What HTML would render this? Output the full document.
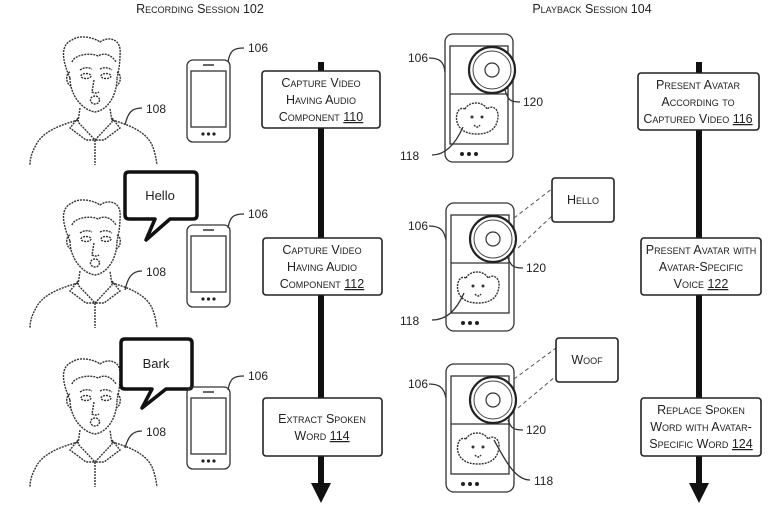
<!DOCTYPE html>
<html><head><meta charset="utf-8"><style>
html,body{margin:0;padding:0;background:#fff}
svg{display:block}
text{font-family:"Liberation Sans",sans-serif;fill:#222}
.sc{font-variant:small-caps;font-size:12.5px}
.ln{fill:none;stroke:#333;stroke-width:1.3}
.dl{fill:none;stroke:#333;stroke-width:1.4;stroke-dasharray:2 1}
.bx{fill:#fff;stroke:#222;stroke-width:1.6}
</style></head><body>
<svg width="780" height="507" viewBox="0 0 780 507" xmlns="http://www.w3.org/2000/svg">
<defs>
<g id="face">
 <path class="dl" d="M70,78 C62,60 60,45 72,40 C80,34 95,38 100,42 C108,36 122,38 120,55 C120,62 119,70 117,78"/>
 <path class="dl" d="M72,62 C74,55 90,52 98,56 C104,52 112,55 116,62"/>
 <path class="dl" d="M70,78 C70,95 82,110 95,112 C108,110 117,95 117,78"/>
 <path class="dl" d="M70,72 C65,74 66,84 71,86 M117,72 C122,74 121,84 116,86"/>
 <ellipse class="dl" cx="86" cy="76" rx="5" ry="2.5"/><ellipse class="dl" cx="106" cy="76" rx="5" ry="2.5"/>
 <path class="dl" d="M80,70 Q86,66 92,69 M100,69 Q106,66 112,70"/>
 <path class="dl" d="M94,80 L92,92 Q96,94 99,92"/>
 <ellipse class="dl" cx="95" cy="100" rx="4.5" ry="4"/>
 <path class="dl" d="M80,108 L78,122 L95,140 L112,122 L110,108"/>
 <path class="dl" d="M78,118 L70,128 L86,140 L95,140 M112,118 L120,128 L104,140 L95,140 M95,140 L95,165"/>
 <path class="dl" d="M78,120 C60,125 42,132 36,145 C32,152 30,158 30,165 M112,120 C130,125 146,132 152,145 C155,152 156,158 157,165"/>
</g>
<g id="phone">
 <rect class="ln" x="0" y="0" width="43" height="82" rx="6"/>
 <rect class="ln" x="4" y="11" width="35" height="56" stroke-width="1"/>
 <line x1="16" y1="5" x2="27" y2="5" stroke="#333" stroke-width="1.5"/>
 <circle cx="16" cy="74" r="1.6" fill="#222"/><circle cx="21.5" cy="74" r="1.6" fill="#222"/><circle cx="27" cy="74" r="1.6" fill="#222"/>
</g>
<g id="play">
 <rect class="ln" x="0" y="0" width="68" height="128" rx="8"/>
 <rect class="ln" x="5" y="12" width="58" height="98" stroke-width="1.1"/>
 <line class="ln" x1="5" y1="60" x2="63" y2="60" stroke-width="1"/>
 <circle cx="17" cy="120" r="2" fill="#222"/><circle cx="24" cy="120" r="2" fill="#222"/><circle cx="31" cy="120" r="2" fill="#222"/>
 <circle cx="47" cy="36" r="23" fill="#fff" stroke="#222" stroke-width="2.2"/>
 <circle cx="47" cy="36" r="19" fill="none" stroke="#444" stroke-width="1"/>
 <circle cx="47" cy="36" r="7" fill="none" stroke="#333" stroke-width="1.2"/>
 <path class="dl" d="M20,75 C24,67 38,67 42,75 C48,70 56,76 52,88 C50,95 44,100 32,100 C20,100 14,95 12,88 C10,80 14,72 20,75"/>
 <circle cx="27" cy="83" r="1.5" fill="#333"/><circle cx="37" cy="83" r="1.5" fill="#333"/>
 <path class="dl" d="M29,91 Q32,95 35,91"/>
</g>
</defs>

<text class="sc" x="200" y="13" text-anchor="middle">Recording Session 102</text>
<text class="sc" x="592" y="13" text-anchor="middle">Playback Session 104</text>

<line x1="321" y1="62" x2="321" y2="485" stroke="#111" stroke-width="6"/>
<polygon points="311,483 331,483 321,503" fill="#111"/>
<rect class="bx" x="262" y="71" width="118" height="57" rx="3"/>
<text class="sc" text-anchor="middle"><tspan x="321" y="87">Capture Video</tspan><tspan x="321" y="104">Having Audio</tspan><tspan x="321" y="121">Component <tspan text-decoration="underline">110</tspan></tspan></text>
<rect class="bx" x="263" y="238" width="119" height="57" rx="3"/>
<text class="sc" text-anchor="middle"><tspan x="322" y="254">Capture Video</tspan><tspan x="322" y="271">Having Audio</tspan><tspan x="322" y="288">Component <tspan text-decoration="underline">112</tspan></tspan></text>
<rect class="bx" x="263" y="398" width="119" height="58" rx="3"/>
<text class="sc" text-anchor="middle"><tspan x="322" y="423">Extract Spoken</tspan><tspan x="322" y="440">Word <tspan text-decoration="underline">114</tspan></tspan></text>

<line x1="699" y1="62" x2="699" y2="485" stroke="#111" stroke-width="6"/>
<polygon points="689,483 709,483 699,503" fill="#111"/>
<rect class="bx" x="638" y="73" width="121" height="57" rx="3"/>
<text class="sc" text-anchor="middle"><tspan x="698" y="89">Present Avatar</tspan><tspan x="698" y="106">According to</tspan><tspan x="698" y="123">Captured Video <tspan text-decoration="underline">116</tspan></tspan></text>
<rect class="bx" x="641" y="238" width="120" height="57" rx="3"/>
<text class="sc" text-anchor="middle"><tspan x="701" y="254">Present Avatar with</tspan><tspan x="701" y="271">Avatar-Specific</tspan><tspan x="701" y="288">Voice <tspan text-decoration="underline">122</tspan></tspan></text>
<rect class="bx" x="641" y="398" width="120" height="58" rx="3"/>
<text class="sc" text-anchor="middle"><tspan x="701" y="414">Replace Spoken</tspan><tspan x="701" y="431">Word with Avatar-</tspan><tspan x="701" y="448">Specific Word <tspan text-decoration="underline">124</tspan></tspan></text>

<use href="#face"/>
<use href="#face" transform="translate(0,163)"/>
<use href="#face" transform="translate(0,322)"/>
<path class="ln" d="M125,125 C128,112 132,108 142,108"/><text x="146" y="113" font-size="12">108</text>
<path class="ln" d="M125,290 C128,277 132,271 142,271"/><text x="146" y="276" font-size="12">108</text>
<path class="ln" d="M125,448 C128,437 132,431 142,431"/><text x="146" y="436" font-size="12">108</text>

<path d="M129,172 L193,172 Q197,172 197,176 L197,215 Q197,219 193,219 L170,219 L146,240 L155,219 L129,219 Q125,219 125,215 L125,176 Q125,172 129,172 Z" fill="#fff" stroke="#111" stroke-width="3.5" stroke-linejoin="round"/>
<text x="160" y="200" font-size="13" text-anchor="middle">Hello</text>
<path d="M125,339 L188,339 Q192,339 192,343 L192,385 Q192,389 188,389 L166,389 L142,408 L152,389 L125,389 Q121,389 121,385 L121,343 Q121,339 125,339 Z" fill="#fff" stroke="#111" stroke-width="3.5" stroke-linejoin="round"/>
<text x="156" y="368" font-size="13" text-anchor="middle">Bark</text>

<use href="#phone" transform="translate(187,60)"/>
<use href="#phone" transform="translate(187,225)"/>
<use href="#phone" transform="translate(187,387)"/>
<path class="ln" d="M228,62 C230,50 234,48 244,48"/><text x="248" y="52" font-size="12">106</text>
<path class="ln" d="M228,228 C230,216 234,214 244,214"/><text x="248" y="218" font-size="12">106</text>
<path class="ln" d="M228,390 C230,378 234,376 244,376"/><text x="248" y="380" font-size="12">106</text>

<use href="#play" transform="translate(445,34)"/>
<use href="#play" transform="translate(446,203)"/>
<use href="#play" transform="translate(446,364)"/>
<text x="408" y="62" font-size="12">106</text><path class="ln" d="M429,58 C440,58 444,62 445,72"/>
<text x="408" y="230" font-size="12">106</text><path class="ln" d="M429,226 C440,226 444,230 446,240"/>
<text x="408" y="388" font-size="12">106</text><path class="ln" d="M429,384 C440,384 444,388 446,398"/>
<path class="ln" d="M505,90 C508,100 510,102 520,102"/><text x="523" y="106" font-size="12">120</text>
<path class="ln" d="M508,258 C511,266 513,268 523,268"/><text x="526" y="272" font-size="12">120</text>
<path class="ln" d="M508,420 C511,428 513,430 523,430"/><text x="526" y="434" font-size="12">120</text>
<path class="ln" d="M463,127 C455,145 445,155 432,155"/><text x="400" y="160" font-size="12">118</text>
<path class="ln" d="M464,293 C456,311 446,320 432,320"/><text x="400" y="325" font-size="12">118</text>
<path class="ln" d="M494,440 C505,460 515,480 530,480"/><text x="534" y="485" font-size="12">118</text>

<line x1="514" y1="218" x2="553" y2="188" stroke="#555" stroke-dasharray="4 3"/>
<line x1="518" y1="248" x2="553" y2="215" stroke="#555" stroke-dasharray="4 3"/>
<rect class="bx" x="552" y="178" width="62" height="44" rx="3"/>
<text class="sc" x="583" y="204" text-anchor="middle">Hello</text>
<line x1="514" y1="379" x2="556" y2="348" stroke="#555" stroke-dasharray="4 3"/>
<line x1="518" y1="408" x2="556" y2="376" stroke="#555" stroke-dasharray="4 3"/>
<rect class="bx" x="556" y="338" width="62" height="44" rx="3"/>
<text class="sc" x="587" y="364" text-anchor="middle">Woof</text>
</svg>
</body></html>
